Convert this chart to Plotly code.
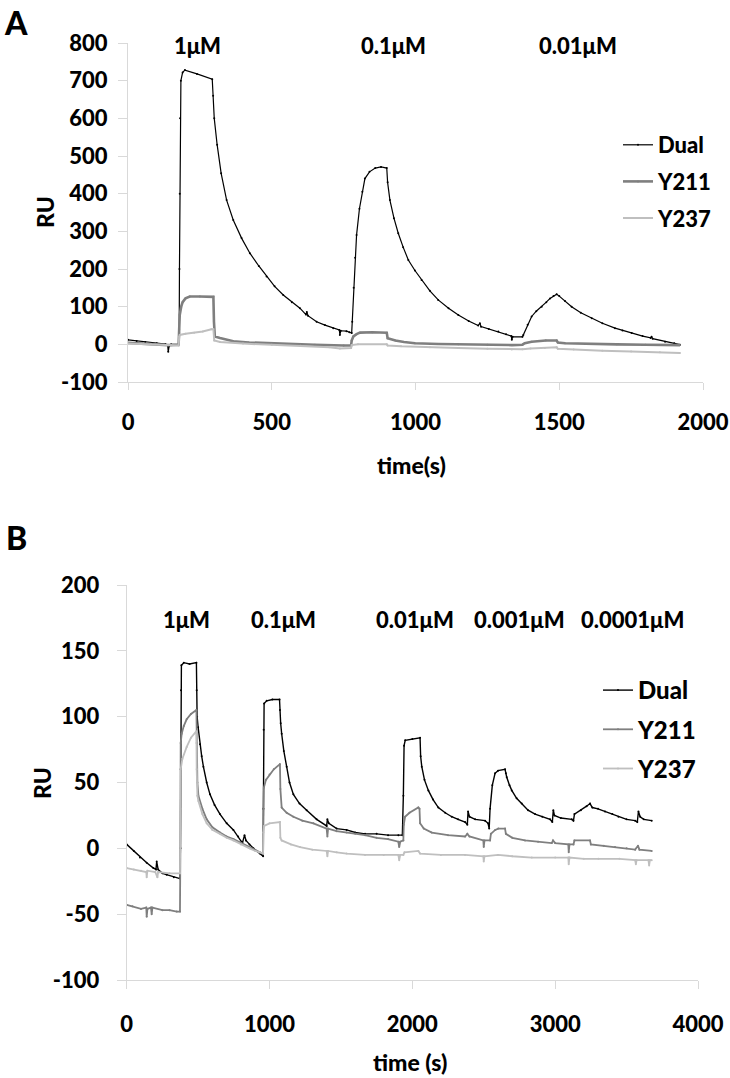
import plotly.graph_objects as go

# ---------------- Panel A data (time s, RU) ----------------
a_dual_t = [0, 30, 60, 100, 130, 138, 140, 143, 150, 176, 178, 179, 180, 181, 184, 190, 198, 240, 293, 296, 300, 310,
            324, 343, 366, 395, 424, 455, 482, 510, 540, 570, 598, 619, 622, 626, 656, 685, 714, 735, 737, 740, 760,
            770, 778, 780, 785, 790, 795, 805, 815, 824, 840, 860, 880, 900, 903, 911, 925, 940, 957, 975, 998, 1021,
            1050, 1079, 1115, 1149, 1185, 1218, 1224, 1228, 1255, 1288, 1315, 1333, 1335, 1338, 1372, 1375, 1390,
            1404, 1420, 1439, 1455, 1468, 1480, 1491, 1500, 1520, 1543, 1575, 1613, 1650, 1694, 1720, 1752, 1790,
            1818, 1821, 1825, 1868, 1900, 1920]
a_dual_ru = [12, 9, 6, 3, 1, -2, -20, -5, 0, 0, 30, 200, 400, 600, 700, 722, 728, 718, 704, 660, 600, 530,
             454, 383, 330, 282, 242, 208, 180, 154, 131, 112, 96, 79, 86, 76, 60, 51, 43, 38, 25, 36, 35,
             32, 30, 60, 150, 230, 290, 360, 405, 440, 458, 468, 471, 468, 430, 383, 335, 295, 258, 224, 196, 171,
             142, 118, 96, 78, 62, 50, 56, 47, 41, 34, 27, 22, 12, 20, 20, 25, 52,
             74, 88, 100, 112, 122, 128, 133, 128, 115, 100, 84, 69, 56, 43, 37, 30, 22,
             17, 20, 15, 7, 3, -1]

a_y211_t = [0, 50, 100, 140, 176, 178, 180, 185, 190, 200, 215, 250, 297, 299, 302, 320, 366, 420, 482, 550, 650,
            750, 776, 778, 784, 795, 807, 850, 900, 903, 930, 960, 998, 1080, 1149, 1250, 1335, 1372, 1380, 1404,
            1453, 1491, 1495, 1520, 1600, 1700, 1800, 1920]
a_y211_ru = [4, 2, 0, -2, -1, 40, 78, 100, 112, 122, 127, 127, 126, 60, 21, 17, 8, 5, 3, 1, -1,
             -3, -3, 10, 21, 27, 31, 32, 31, 16, 10, 6, 3, 1, 0, -1, -2, -1, 3, 7,
             10, 10, 5, 3, 1, 0, -1, -2]

a_y237_t = [0, 80, 150, 176, 178, 180, 200, 230, 260, 290, 297, 300, 320, 400, 500, 600, 700, 737, 776, 778, 800,
            900, 903, 950, 1050, 1149, 1250, 1335, 1372, 1400, 1450, 1491, 1495, 1550, 1650, 1750, 1850, 1920]
a_y237_ru = [2, 0, -3, -3, 20, 25, 28, 31, 34, 40, 40, 10, 6, 2, -1, -4, -8, -11, -10, -2, 0,
             0, -3, -5, -8, -10, -12, -14, -13, -11, -10, -8, -12, -14, -17, -19, -21, -23]

# ---------------- Panel B data (time s, RU) ----------------
b_dual_t = [0, 50, 93, 140, 187, 205, 210, 220, 250, 280, 330, 373, 376, 378, 380, 383, 400, 440, 488, 490, 493,
            500, 513, 525, 537, 560, 583, 615, 653, 700, 747, 780, 805, 810, 825, 835, 860, 887, 933, 955, 957,
            959, 962, 980, 1020, 1070, 1073, 1078, 1085, 1100, 1120, 1140, 1167, 1210, 1260, 1330, 1400, 1405,
            1415, 1470, 1540, 1600, 1669, 1750, 1830, 1902, 1930, 1937, 1942, 1950, 2000, 2054, 2058, 2066, 2085,
            2112, 2145, 2182, 2230, 2276, 2320, 2369, 2385, 2390, 2400, 2440, 2509, 2530, 2538, 2544, 2560, 2579,
            2600, 2649, 2655, 2661, 2680, 2696, 2730, 2766, 2810, 2859, 2910, 2964, 2980, 2987, 2995, 3040, 3116,
            3128, 3135, 3180, 3220, 3244, 3260, 3300, 3349, 3400, 3443, 3500, 3560, 3575, 3583, 3595, 3620, 3676]
b_dual_ru = [3, -2, -7, -11, -15, -16, -10, -16, -19, -20, -22, -23, 0, 60, 120, 139, 141, 140, 141, 120, 100,
             92, 79, 70, 62, 50, 41, 33, 26, 19, 14, 9, 5, 4, 10, 6, 3, 0, -4, -6, 30,
             90, 110, 112, 113, 113, 105, 95, 87, 74, 62, 50, 41, 34, 29, 22, 17, 22,
             19, 15, 14, 12, 11, 11, 10, 10, 10, 40, 78, 82, 83, 84, 70, 62, 52,
             44, 37, 31, 27, 24, 22, 20, 18, 28, 24, 22, 21, 19, 15, 30, 48, 57,
             59, 60, 57, 54, 48, 44, 38, 34, 29, 26, 24, 22, 20, 29, 25, 23, 22,
             21, 26, 29, 32, 34, 31, 30, 28, 26, 24, 22, 21, 20, 28, 24, 22, 21]

b_y211_t = [0, 40, 100, 137, 140, 145, 170, 175, 180, 250, 300, 350, 373, 376, 378, 385, 400, 420, 450, 488, 490,
            495, 502, 530, 560, 600, 653, 700, 747, 800, 860, 933, 955, 957, 960, 975, 1000, 1030, 1073, 1076,
            1085, 1120, 1167, 1230, 1307, 1400, 1405, 1410, 1470, 1540, 1600, 1669, 1750, 1830, 1902, 1908, 1915,
            1937, 1940, 1949, 1980, 2042, 2050, 2054, 2080, 2136, 2250, 2369, 2385, 2400, 2497, 2500, 2505, 2544,
            2550, 2580, 2602, 2649, 2655, 2700, 2789, 2880, 2976, 2985, 3000, 3092, 3095, 3100, 3128, 3135, 3244,
            3250, 3340, 3419, 3500, 3560, 3580, 3590, 3676]
b_y211_ru = [-43, -44, -46, -45, -52, -46, -45, -50, -45, -47, -47, -48, -48, 0, 80, 87, 93, 98, 102, 105, 80,
             50, 40, 30, 22, 16, 12, 9, 7, 4, 1, -3, -4, 30, 46, 52, 56, 60, 64, 45,
             31, 27, 24, 21, 19, 15, 9, 15, 13, 12, 11, 10, 8, 7, 5, 1, 5,
             6, 18, 24, 27, 31, 30, 19, 15, 12, 10, 9, 11, 9, 6, 1, 6, 6,
             11, 14, 15, 15, 11, 8, 6, 5, 4, 6, 4, 3, -3, 3, 3, 6, 6,
             3, 2, 1, 0, -1, 2, -1, -2]

b_y237_t = [0, 50, 100, 137, 140, 145, 200, 215, 220, 300, 373, 376, 378, 390, 420, 450, 488, 490, 495, 502, 530,
            560, 600, 653, 700, 747, 800, 860, 900, 933, 955, 957, 962, 1000, 1073, 1076, 1085, 1150, 1214, 1300,
            1400, 1405, 1410, 1470, 1540, 1669, 1800, 1902, 1908, 1915, 1937, 1945, 2042, 2054, 2200, 2369, 2497,
            2500, 2505, 2600, 2700, 2836, 3000, 3092, 3095, 3100, 3200, 3303, 3450, 3560, 3565, 3570, 3653, 3658,
            3663, 3676]
b_y237_ru = [-15, -16, -17, -18, -22, -17, -18, -22, -18, -19, -19, 30, 60, 68, 77, 84, 89, 60, 40, 36, 26,
             19, 14, 11, 8, 6, 3, 0, -2, -3, -4, 12, 17, 19, 20, 8, 6, 3, 1, -1,
             -2, -6, -2, -3, -4, -5, -5, -5, -9, -5, -5, -3, -2, -4, -5, -5, -6,
             -10, -6, -5, -6, -7, -7, -7, -12, -7, -8, -8, -8, -9, -12, -9, -9, -13,
             -9, -9]

series_names = ["Dual", "Y211", "Y237"]
series_colors = ["#000000", "#7f7f7f", "#bfbfbf"]

a_conc_labels = ["1μM", "0.1μM", "0.01μM"]
a_conc_times = [243, 922, 1565]
b_conc_labels = ["1μM", "0.1μM", "0.01μM", "0.001μM", "0.0001μM"]
b_conc_times = [422, 1101, 2019, 2747, 3538]

a_xticks = [0, 500, 1000, 1500, 2000]
a_xtick_text = ["0", "500", "1000", "1500", "2000"]
a_yticks = [-100, 0, 100, 200, 300, 400, 500, 600, 700, 800]
a_ytick_text = ["-100", "0", "100", "200", "300", "400", "500", "600", "700", "800"]
b_xticks = [0, 1000, 2000, 3000, 4000]
b_xtick_text = ["0", "1000", "2000", "3000", "4000"]
b_yticks = [-100, -50, 0, 50, 100, 150, 200]
b_ytick_text = ["-100", "-50", "0", "50", "100", "150", "200"]

# ---------------- layout helpers (reference page pixels -> paper) ----------------
W, H = 730, 1078
ML, MR = 126, 27
PW = W - ML - MR


def fx(p):
    return (p - ML) / PW


def fy(p):
    return 1 - p / H


FONT = "Lato"
WT = 900
AXC = "#d9d9d9"

fig = go.Figure()

a_data = [(a_dual_t, a_dual_ru), (a_y211_t, a_y211_ru), (a_y237_t, a_y237_ru)]
b_data = [(b_dual_t, b_dual_ru), (b_y211_t, b_y211_ru), (b_y237_t, b_y237_ru)]
a_widths = [1.2, 2.6, 2.0]
b_widths = [1.4, 1.8, 1.8]

for i, (t, v) in enumerate(a_data):
    fig.add_trace(go.Scatter(
        x=t, y=v, name=series_names[i], mode="lines+markers",
        line=dict(color=series_colors[i], width=a_widths[i]),
        marker=dict(color=series_colors[i], size=2),
        xaxis="x", yaxis="y", legend="legend", legendgroup="a" + str(i)))

for i, (t, v) in enumerate(b_data):
    fig.add_trace(go.Scatter(
        x=t, y=v, name=series_names[i], mode="lines+markers",
        line=dict(color=series_colors[i], width=b_widths[i]),
        marker=dict(color=series_colors[i], size=2),
        xaxis="x2", yaxis="y2", legend="legend2", legendgroup="b" + str(i)))

common_axis = dict(showline=True, linecolor=AXC, linewidth=1, ticks="outside", tickcolor=AXC,
                   showgrid=False, zeroline=False, automargin=False, ticklabeloverflow="allow",
                   tickfont=dict(family=FONT, size=22, color="#000000", weight=WT))

fig.update_layout(
    width=W, height=H,
    margin=dict(l=ML, r=MR, t=0, b=0),
    paper_bgcolor="white", plot_bgcolor="white",
    font=dict(family=FONT, color="#000000", weight=WT),
    xaxis=dict(domain=[fx(128), fx(703)], range=[0, 2000], tickvals=a_xticks, ticktext=a_xtick_text,
               ticklen=7, ticklabelstandoff=14, anchor="y", **common_axis),
    yaxis=dict(domain=[fy(382), fy(43)], range=[-100, 800], tickvals=a_yticks, ticktext=a_ytick_text,
               ticklen=9, ticklabelstandoff=6, anchor="x", **common_axis),
    xaxis2=dict(domain=[fx(126.7), fx(698)], range=[0, 4000], tickvals=b_xticks, ticktext=b_xtick_text,
                ticklen=8, ticklabelstandoff=17, anchor="y2", **common_axis),
    yaxis2=dict(domain=[fy(980), fy(585)], range=[-100, 200], tickvals=b_yticks, ticktext=b_ytick_text,
                ticklen=9, ticklabelstandoff=13, anchor="x2", **common_axis),
    legend=dict(x=fx(618), y=fy(124), xanchor="left", yanchor="top", bgcolor="rgba(0,0,0,0)",
                font=dict(family=FONT, size=22, color="#000000", weight=WT),
                tracegroupgap=5, itemwidth=30),
    legend2=dict(x=fx(598), y=fy(668), xanchor="left", yanchor="top", bgcolor="rgba(0,0,0,0)",
                 font=dict(family=FONT, size=24, color="#000000", weight=WT),
                 tracegroupgap=5, itemwidth=30),
    showlegend=True,
)

ann = []


def label(text, x, y, size, xref="paper", angle=0):
    ann.append(dict(text=text, x=x, y=y, xref=xref, yref="paper", showarrow=False, textangle=angle,
                    xanchor="center", yanchor="middle",
                    font=dict(family=FONT, size=size, color="#000000", weight=WT)))


# panel letters
label("A", fx(16), fy(22), 32)
label("B", fx(16), fy(537), 32)
# axis titles
label("time(s)", fx(411), fy(465), 23)
label("time (s)", fx(410), fy(1062), 23)
label("RU", fx(45), fy(212), 23, angle=-90)
label("RU", fx(42), fy(783), 23, angle=-90)
# concentration labels
for lab, t in zip(a_conc_labels, a_conc_times):
    label(lab, t, fy(45), 22, xref="x")
for lab, t in zip(b_conc_labels, b_conc_times):
    label(lab, t, fy(619), 22, xref="x2")

fig.update_layout(annotations=ann)
# remove the default 8px page margin so the 730x1078 figure fills the window exactly
fig.write_html("out.html", config={"displayModeBar": False},
               post_script="document.body.style.margin='0';document.body.style.overflow='hidden';")
